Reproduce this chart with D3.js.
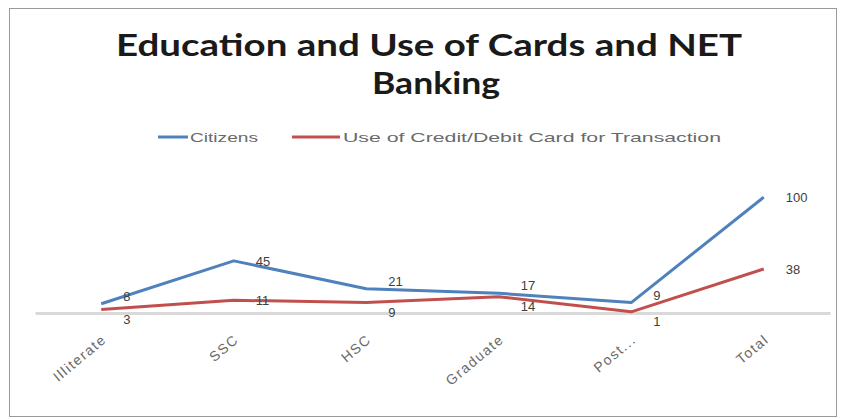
<!DOCTYPE html>
<html><head><meta charset="utf-8">
<script src="https://cdn.jsdelivr.net/npm/d3@7"></script>
<style>body{margin:0;background:#fff}svg{display:block}</style>
</head><body><svg id="c" width="843" height="419"></svg>
<script>
const categories = ["Illiterate","SSC","HSC","Graduate","Post...","Total"];
const citizens = [8,45,21,17,9,100];
const cardUse = [3,11,9,14,1,38];
const seriesNames = ["Citizens","Use of Credit/Debit Card for Transaction"];
const colors = ["#4f81bd","#c0504d"];

const svg = d3.select("#c");
svg.append("rect").attr("x",9.5).attr("y",8.5).attr("width",827).attr("height",408)
  .attr("fill","#fff").attr("stroke","#9a9a9a");

// title
svg.append("text").attr("x",429).attr("y",56).attr("text-anchor","middle")
  .attr("font-family","Lato, 'Open Sans', sans-serif").attr("font-weight","bold").attr("font-size",31)
  .attr("fill","#1a1a1a").text("Education and Use of Cards and NET")
  .attr("textLength",626).attr("lengthAdjust","spacingAndGlyphs");
svg.append("text").attr("x",436).attr("y",94).attr("text-anchor","middle")
  .attr("font-family","Lato, 'Open Sans', sans-serif").attr("font-weight","bold").attr("font-size",31)
  .attr("fill","#1a1a1a").text("Banking")
  .attr("textLength",128).attr("lengthAdjust","spacingAndGlyphs");

// legend
const leg = [{x1:158,x2:188,tx:190,w:68},{x1:292,x2:340,tx:343,w:378}];
seriesNames.forEach((n,i)=>{
  svg.append("line").attr("x1",leg[i].x1).attr("x2",leg[i].x2).attr("y1",137).attr("y2",137)
    .attr("stroke",colors[i]).attr("stroke-width",3);
  svg.append("text").attr("x",leg[i].tx).attr("y",142).attr("font-family","'Liberation Sans', Arial, sans-serif")
    .attr("font-size",13).attr("fill","#6a6a6a").text(n)
    .attr("textLength",leg[i].w).attr("lengthAdjust","spacingAndGlyphs");
});

const x = d3.scaleBand().domain(categories).range([35,830]);
const y = d3.scaleLinear().domain([0,120]).range([313,174]);

// category axis
const ax = svg.append("g").attr("transform","translate(0,313)").call(d3.axisBottom(x).tickSize(0).tickPadding(0));
ax.select(".domain").attr("stroke","#d9d9d9").attr("stroke-width",3);
ax.selectAll(".tick text").attr("font-family","'Liberation Sans', Arial, sans-serif").attr("font-size",14)
  .attr("fill","#6a6a6a").attr("text-anchor","end").attr("dy",null).attr("y",0)
  .attr("transform","translate(6,28) rotate(-40)")
  .style("letter-spacing","1.5px");

const line = d3.line().x((d,i)=>x(categories[i])+x.bandwidth()/2).y(d=>y(d));
[citizens,cardUse].forEach((s,k)=>{
  svg.append("path").datum(s).attr("d",line).attr("fill","none").attr("stroke",colors[k])
    .attr("stroke-width",3).attr("stroke-linejoin","round");
});
// data labels
const lblY = (k,i)=>{
  const yc = y(citizens[i]), yr = y(cardUse[i]);
  if (k===0) return yc+ (Math.abs(yc-yr)<14 ? -3 : 5);
  return yr + (Math.abs(yc-yr)<14 ? 14 : 5);
};
[citizens,cardUse].forEach((s,k)=>{
  svg.selectAll(null).data(s).enter().append("text")
    .attr("x",(d,i)=>x(categories[i])+x.bandwidth()/2+22)
    .attr("y",(d,i)=>lblY(k,i))
    .attr("font-family","'Liberation Sans', Arial, sans-serif").attr("font-size",13)
    .attr("fill","#404040").text(d=>d);
});
</script></body></html>
